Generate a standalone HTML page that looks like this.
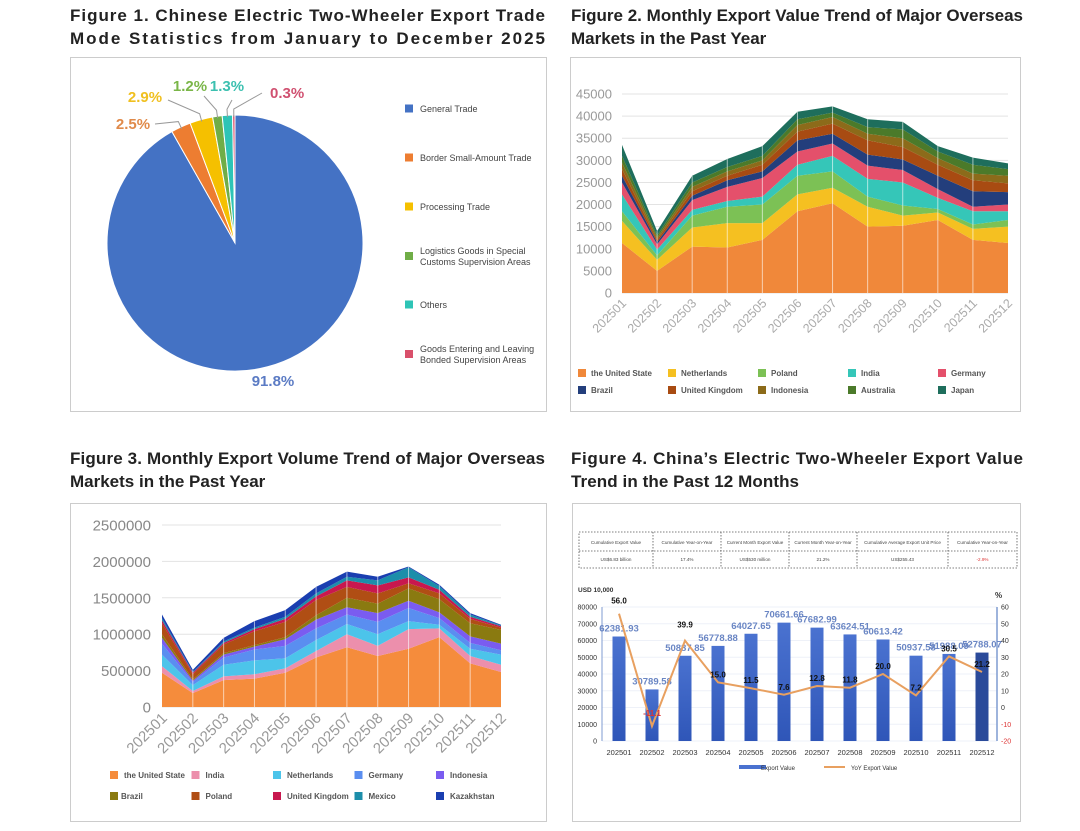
<!DOCTYPE html>
<html><head><meta charset="utf-8"><style>
body{margin:0;background:#fff;width:1080px;height:831px;overflow:hidden;font-family:"Liberation Sans",Arial,sans-serif}
svg{display:block}
</style></head><body>
<svg id="s" width="1080" height="831" xmlns="http://www.w3.org/2000/svg" font-family="Liberation Sans, Arial, sans-serif">
<g font-weight="bold" font-size="17" fill="#222">
<text x="70" y="21" textLength="475" lengthAdjust="spacing">Figure 1. Chinese Electric Two-Wheeler Export Trade</text>
<text x="70" y="44" textLength="475" lengthAdjust="spacing">Mode Statistics from January to December 2025</text>
<text x="571" y="21" textLength="452" lengthAdjust="spacing">Figure 2. Monthly Export Value Trend of Major Overseas</text>
<text x="571" y="44">Markets in the Past Year</text>
<text x="70" y="464" textLength="475" lengthAdjust="spacing">Figure 3. Monthly Export Volume Trend of Major Overseas</text>
<text x="70" y="487">Markets in the Past Year</text>
<text x="571" y="464" textLength="452" lengthAdjust="spacing">Figure 4. China’s Electric Two-Wheeler Export Value</text>
<text x="571" y="487" textLength="228" lengthAdjust="spacing">Trend in the Past 12 Months</text>
</g>
<rect x="70.5" y="57.5" width="476" height="354" fill="#fff" stroke="#ccc"/>
<rect x="570.5" y="57.5" width="450" height="354" fill="#fff" stroke="#ccc"/>
<rect x="70.5" y="503.5" width="476" height="318" fill="#fff" stroke="#ccc"/>
<rect x="572.5" y="503.5" width="448" height="318" fill="#fff" stroke="#ccc"/>
<g id="g1"></g><g id="g2"></g><g id="g3"></g><g id="g4"></g>
</svg>
<script>
// ---------- Figure 1 data ----------
const pieLabels=["General Trade","Border Small-Amount Trade","Processing Trade","Logistics Goods in Special Customs Supervision Areas","Others","Goods Entering and Leaving Bonded Supervision Areas"];
const pieValues=[91.8,2.5,2.9,1.2,1.3,0.3];
const pieColors=["#4472c4","#ed7d31","#f5c000","#70ad47","#2ec4b6","#d9506b"];
// ---------- Figure 2 data ----------
const months=["202501","202502","202503","202504","202505","202506","202507","202508","202509","202510","202511","202512"];
const f2Names=["the United State","Netherlands","Poland","India","Germany","Brazil","United Kingdom","Indonesia","Australia","Japan"];
const f2US=[11300,5000,10500,10300,12000,18500,20300,15000,15200,16500,12000,11300];
const f2NL=[5000,2500,4300,5500,3800,3800,3500,4500,2300,1700,2500,3700];
const f2PL=[2200,1000,2700,3700,4200,4200,3700,2300,2300,800,1000,1500];
const f2IN=[3800,1300,1300,1300,1800,2500,3500,4000,5200,2500,3000,2000];
const f2DE=[2700,1200,2200,3200,4200,3000,2800,3000,2800,2000,1000,1500];
const f2BR=[1500,500,1000,1500,1500,2500,2200,2500,2400,3000,3500,2800];
const f2UK=[1500,500,1000,1000,1500,2000,2300,3200,2800,2500,2500,2000];
const f2ID=[1500,500,1000,1000,1000,1500,1500,1500,2000,1500,1500,1700];
const f2AU=[1500,500,1000,1000,1000,1300,1000,1500,2000,1500,2000,1500];
const f2JP=[2500,1000,1500,1800,2200,1700,1400,1800,1700,1200,1600,1300];
const f2Ticks=[0,5000,10000,15000,20000,25000,30000,35000,40000,45000];
const f2Colors=["#f0883a","#f5c021","#7cc155","#35c6b8","#e4506b","#233e7c","#a84b12","#8c6b1a","#4b7a2a","#1e6e5c"];
// ---------- Figure 3 data ----------
const f3Names=["the United State","India","Netherlands","Germany","Indonesia","Brazil","Poland","United Kingdom","Mexico","Kazakhstan"];
const f3US=[470000,190000,370000,390000,470000,680000,820000,700000,800000,960000,600000,480000];
const f3IN=[90000,30000,50000,60000,60000,90000,180000,140000,270000,120000,100000,100000];
const f3NL=[160000,80000,160000,190000,140000,150000,140000,160000,110000,50000,100000,140000];
const f3DE=[150000,40000,100000,150000,170000,160000,130000,170000,180000,90000,80000,60000];
const f3ID=[80000,20000,40000,40000,90000,120000,100000,120000,100000,80000,90000,90000];
const f3BR=[50000,20000,20000,20000,30000,60000,130000,130000,170000,180000,180000,190000];
const f3PL=[150000,70000,120000,190000,210000,210000,150000,140000,70000,80000,60000,30000];
const f3UK=[40000,20000,20000,30000,40000,50000,90000,110000,80000,50000,30000,20000];
const f3MX=[30000,10000,20000,20000,30000,40000,50000,70000,140000,50000,30000,10000];
const f3KZ=[50000,30000,50000,90000,90000,90000,70000,50000,10000,20000,20000,10000];
const f3Ticks=[0,500000,1000000,1500000,2000000,2500000];
const f3Colors=["#f58c3c","#ec8fac","#4cc4ea","#5a8ef0","#7a5cf0","#8a7a10","#b04e14","#c8184e","#1c8eaa","#1a3eb0"];
// ---------- Figure 4 data ----------
const f4Values=[62381.93,30789.58,50887.85,56778.88,64027.65,70661.66,67682.99,63624.51,60613.42,50937.58,51988.09,52788.07];
const f4YoY=[56.0,-11.1,39.9,15.0,11.5,7.6,12.8,11.8,20.0,7.2,30.5,21.2];
const f4LeftTicks=[0,10000,20000,30000,40000,50000,60000,70000,80000];
const f4RightTicks=[-20,-10,0,10,20,30,40,50,60];
const f4Headers=["Cumulative Export Value","Cumulative Year-on-Year","Current Month Export Value","Current Month Year-on-Year","Cumulative Average Export Unit Price","Cumulative Year-on-Year"];
const f4Cells=["US$6.83 billion","17.4%","US$530 million","21.2%","US$255.43","-2.9%"];

const NS="http://www.w3.org/2000/svg";
function mk(parent,tag,attrs,txt){const e=document.createElementNS(NS,tag);for(const k in attrs)e.setAttribute(k,attrs[k]);if(txt!==undefined)e.textContent=txt;parent.appendChild(e);return e;}

// ===== Figure 1 pie =====
(function(){
const g=document.getElementById('g1');const cx=235,cy=243,r=128;
const tot=pieValues.reduce((a,b)=>a+b,0);let a=-Math.PI/2;
const labelPos=[[273,386],[133,129],[145,102],[190,91],[227,91],[270,98]];
const leadEnd=[null,[155,124],[168,100],[204,96],[232,100],[262,93]];
const txtColors=["#5b7bc4","#e08a4a","#f0c020","#7ab648","#3cc0b0","#d05070"];
pieValues.forEach((v,i)=>{
 const a2=a+v/tot*2*Math.PI;
 const x1=cx+r*Math.cos(a),y1=cy+r*Math.sin(a),x2=cx+r*Math.cos(a2),y2=cy+r*Math.sin(a2);
 const p=mk(g,'path',{d:`M${cx},${cy}L${x1},${y1}A${r},${r} 0 ${a2-a>Math.PI?1:0} 1 ${x2},${y2}Z`,fill:pieColors[i],stroke:'#fff','stroke-width':1});
 
 
 const mid=(a+a2)/2;
 if(i>0){
  const e=leadEnd[i];
  const ln=mk(g,'polyline',{points:`${cx+(r-2)*Math.cos(mid)},${cy+(r-2)*Math.sin(mid)} ${cx+(r+6)*Math.cos(mid)},${cy+(r+6)*Math.sin(mid)} ${e[0]},${e[1]}`,fill:'none',stroke:'#999','stroke-width':1});
  
  
 }
 const t=mk(g,'text',{x:labelPos[i][0],y:labelPos[i][1],'font-size':15,'font-weight':'bold',fill:txtColors[i],'text-anchor':i==5?'start':'middle'},v.toFixed(1)+'%');
 
 
 a=a2;
});
const ly=[[109],[158],[207],[251,262],[305],[349,360]];
const lines=[["General Trade"],["Border Small-Amount Trade"],["Processing Trade"],["Logistics Goods in Special","Customs Supervision Areas"],["Others"],["Goods Entering and Leaving","Bonded Supervision Areas"]];
lines.forEach((ls,i)=>{
 const cyy=ls.length>1?(ly[i][0]+ly[i][1])/2:ly[i][0];
 const s=mk(g,'rect',{x:405,y:cyy-4.5,width:8,height:8,fill:pieColors[i]});
 
 
 ls.forEach((l,j)=>{const t=mk(g,'text',{x:420,y:ly[i][j]+3,'font-size':9,fill:'#444'},l);
 
 });
});
})();

// ===== stacked area helper =====
function stacked(g,series,colors,xs,ys){
 let base=months.map(()=>0);
 series.forEach((s,k)=>{
  const top=base.map((b,i)=>b+s[i]);
  let d='M'+months.map((m,i)=>xs(i)+','+ys(top[i])).join('L');
  for(let i=months.length-1;i>=0;i--)d+='L'+xs(i)+','+ys(base[i]);
  const p=mk(g,'path',{d:d+'Z',fill:colors[k]});
  
  
  base=top;
 });
 months.forEach((m,i)=>{if(i>0&&i<months.length-1){const l=mk(g,'line',{x1:xs(i),x2:xs(i),y1:ys(0),y2:ys(base[i]),stroke:'#fff','stroke-opacity':0.6,'stroke-width':1});
 
 }});
}

// ===== Figure 2 =====
(function(){
const g=document.getElementById('g2');
const x0=622,x1=1008,y0=293,y1=94;
const xs=i=>x0+(x1-x0)*i/(months.length-1);
const ys=v=>y0-(y0-y1)*v/45000;
f2Ticks.forEach(t=>{const l=mk(g,'line',{x1:x0,x2:x1,y1:ys(t),y2:ys(t),stroke:'#e3e3e3'});
 
 
 const tx=mk(g,'text',{x:612,y:ys(t)+4.5,'font-size':13,fill:'#999','text-anchor':'end'},t);
 
 });
stacked(g,[f2US,f2NL,f2PL,f2IN,f2DE,f2BR,f2UK,f2ID,f2AU,f2JP],f2Colors,xs,ys);
months.forEach((m,i)=>{const t=mk(g,'text',{x:xs(i)+5,y:304,'font-size':12.5,fill:'#aaa','text-anchor':'end',transform:`rotate(-45 ${xs(i)+5} 304)`},m);
 
 });
f2Names.forEach((n,i)=>{const cx=578+(i%5)*90,cy=i<5?373:390;
 const s=mk(g,'rect',{x:cx,y:cy-4,width:8,height:8,fill:f2Colors[i]});
 
 
 const t=mk(g,'text',{x:cx+13,y:cy+3,'font-size':8,'font-weight':'bold',fill:'#555'},n);
 
 });
})();

// ===== Figure 3 =====
(function(){
const g=document.getElementById('g3');
const x0=162,x1=501,y0=707,y1=525;
const xs=i=>x0+(x1-x0)*i/(months.length-1);
const ys=v=>y0-(y0-y1)*v/2500000;
f3Ticks.forEach(t=>{const l=mk(g,'line',{x1:x0,x2:x1,y1:ys(t),y2:ys(t),stroke:'#e3e3e3'});
 
 
 const tx=mk(g,'text',{x:151,y:ys(t)+5.5,'font-size':15,fill:'#888','text-anchor':'end'},t);
 
 });
stacked(g,[f3US,f3IN,f3NL,f3DE,f3ID,f3BR,f3PL,f3UK,f3MX,f3KZ],f3Colors,xs,ys);
months.forEach((m,i)=>{const t=mk(g,'text',{x:xs(i)+6,y:719,'font-size':15,fill:'#999','text-anchor':'end',transform:`rotate(-45 ${xs(i)+6} 719)`},m);
 
 });
f3Names.forEach((n,i)=>{const cx=110+(i%5)*81.5,cy=i<5?775:796;
 const s=mk(g,'rect',{x:cx,y:cy-4,width:8,height:8,fill:f3Colors[i]});
 
 
 const t=mk(g,'text',{x:cx+(i==5?11:14),y:cy+3,'font-size':8,'font-weight':'bold',fill:'#555'},n);
 
 });
})();

// ===== Figure 4 =====
(function(){
const g=document.getElementById('g4');
const cols=[579,653,721,789,857,948,1017];
const tb=mk(g,'rect',{x:579,y:532,width:438,height:36,fill:'none',stroke:'#555','stroke-dasharray':'1.5 1.5','stroke-width':0.8});


const hl=mk(g,'line',{x1:579,x2:1017,y1:551,y2:551,stroke:'#555','stroke-dasharray':'1.5 1.5','stroke-width':0.8});


f4Headers.forEach((h,i)=>{
 if(i>0){const l=mk(g,'line',{x1:cols[i],x2:cols[i],y1:532,y2:568,stroke:'#555','stroke-dasharray':'1.5 1.5','stroke-width':0.8});
 
 }
 const m=(cols[i]+cols[i+1])/2;
 const t=mk(g,'text',{x:m,y:544,'font-size':4.6,fill:'#444','text-anchor':'middle'},h);
 
 
 const c=mk(g,'text',{x:m,y:561,'font-size':4.6,fill:i==5?'#d33':'#444','text-anchor':'middle'},f4Cells[i]);
 
 
});
const u=mk(g,'text',{x:578,y:592,'font-size':6.5,'font-weight':'bold',fill:'#333'},'USD 10,000');


const pc=mk(g,'text',{x:995,y:598,'font-size':8,'font-weight':'bold',fill:'#333'},'%');


const y0=741,y1=607,step=33,xc0=619;
const xs=i=>xc0+step*i;
const ysL=v=>y0-(y0-y1)*v/80000;
const ysR=v=>y0-(y0-y1)*(v+20)/80;
f4LeftTicks.forEach(t=>{const l=mk(g,'line',{x1:602,x2:997,y1:ysL(t),y2:ysL(t),stroke:'#eef1f8'});
 
 
 const tx=mk(g,'text',{x:597,y:ysL(t)+2.5,'font-size':7,fill:'#333','text-anchor':'end'},t);
 
 });
f4RightTicks.forEach(t=>{const tx=mk(g,'text',{x:1001,y:ysR(t)+2.5,'font-size':7,fill:t<0?'#d33':'#333'},t);
 
 });
const la=mk(g,'line',{x1:602,x2:602,y1:607,y2:741,stroke:'#7f9bd0'});


const ra=mk(g,'line',{x1:997,x2:997,y1:607,y2:741,stroke:'#7f9bd0','stroke-width':1.5});


const defs=mk(g,'defs',{});
const lg=mk(defs,'linearGradient',{id:'bg',x1:0,y1:0,x2:0,y2:1});
mk(lg,'stop',{offset:0,'stop-color':'#4a72d0'});mk(lg,'stop',{offset:1,'stop-color':'#2f56b8'});
f4Values.forEach((v,i)=>{
 const b=mk(g,'rect',{x:xs(i)-6.5,y:ysL(v),width:13,height:y0-ysL(v),fill:i==11?'#2a4a9a':'url(#bg)'});
 
 
 const t=mk(g,'text',{x:xs(i),y:ysL(v)-5,'font-size':9.5,'font-weight':'bold',fill:'#6a86c4','text-anchor':'middle'},v.toFixed(2));
 
 
 const xl=mk(g,'text',{x:xs(i),y:755,'font-size':7.5,fill:'#333','text-anchor':'middle'},months[i]);
 
 
});
const line=mk(g,'polyline',{points:f4YoY.map((v,i)=>xs(i)+','+ysR(v)).join(' '),fill:'none',stroke:'#e8a060','stroke-width':2});


f4YoY.forEach((v,i)=>{const t=mk(g,'text',{x:xs(i),y:ysR(v)+(i==0?-10:(i==2?-13:(i==1?-10:-5))),'font-size':8,'font-weight':'bold',fill:v<0?'#d33':'#111','text-anchor':'middle'},v.toFixed(1));
 
 });
const lb=mk(g,'rect',{x:739,y:765,width:27,height:4,fill:'#4a72d0'});


const lt=mk(g,'text',{x:761,y:770,'font-size':6,fill:'#333'},'Export Value');


const ll=mk(g,'line',{x1:824,x2:845,y1:767,y2:767,stroke:'#e8a060','stroke-width':2});


const lt2=mk(g,'text',{x:851,y:770,'font-size':6,fill:'#333'},'YoY Export Value');


})();
</script>
</body></html>
